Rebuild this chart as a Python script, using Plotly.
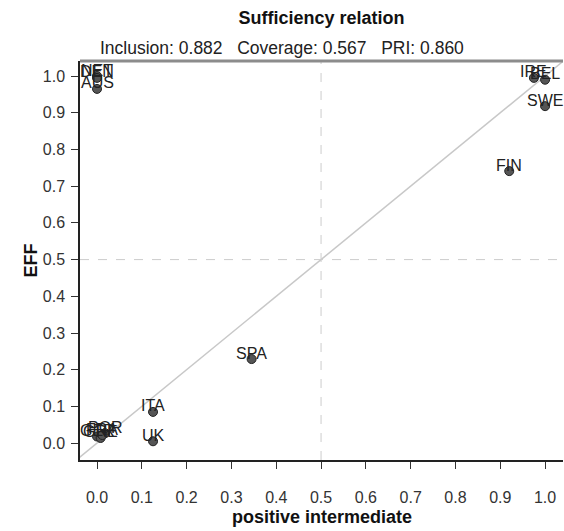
import plotly.graph_objects as go

# Case labels and their set-membership scores
cases = ["NET", "DEN", "AUS", "IRE", "BEL", "SWE", "FIN", "SPA",
         "ITA", "UK", "POR", "GER", "GRE", "FRA"]
pos_intermediate = [0.0, 0.0, 0.0, 0.975, 1.0, 1.0, 0.92, 0.345,
                    0.125, 0.125, 0.018, 0.0, 0.008, 0.012]
eff = [1.0, 0.995, 0.965, 0.995, 0.99, 0.918, 0.741, 0.229,
       0.085, 0.005, 0.027, 0.018, 0.014, 0.022]

subtitle = "Inclusion: 0.882   Coverage: 0.567   PRI: 0.860"
x_title = "positive intermediate"
y_title = "EFF"
tick_vals = [i / 10 for i in range(11)]
tick_text = [f"{v:.1f}" for v in tick_vals]

x_range = [-0.038, 1.04]
y_range = [-0.046, 1.041]

font_family = "Liberation Sans, Arial, Helvetica, sans-serif"

fig = go.Figure()

# Diagonal reference line y = x across the plotting region
diag = [min(x_range[0], y_range[0]), max(x_range[1], y_range[1])]
fig.add_trace(go.Scatter(
    x=diag, y=diag, mode="lines",
    line=dict(color="#c8c8c8", width=1.5),
    hoverinfo="skip", showlegend=False,
))

# Case points
fig.add_trace(go.Scatter(
    x=pos_intermediate, y=eff, mode="markers",
    marker=dict(size=9, color="#555555",
                line=dict(color="#222222", width=1)),
    text=cases, hoverinfo="text", showlegend=False,
))

# Case labels, placed just above each point
for name, xv, yv in zip(cases, pos_intermediate, eff):
    fig.add_annotation(
        x=xv, y=yv, text=name, showarrow=False, yshift=6,
        font=dict(family=font_family, size=16, color="#222222"),
    )

# Dashed guides at 0.5
fig.add_vline(x=0.5, line=dict(color="#cccccc", width=1, dash="dash"))
fig.add_hline(y=0.5, line=dict(color="#cccccc", width=1, dash="dash"))

# Top frame edge
fig.add_shape(type="line", xref="paper", yref="paper",
              x0=0, x1=1, y0=1, y1=1,
              line=dict(color="#8c8c8c", width=3))

fig.add_annotation(
    xref="paper", yref="paper", x=18 / 483, y=1, yshift=1,
    xanchor="left", yanchor="bottom", showarrow=False,
    text=subtitle, font=dict(family=font_family, size=17.5, color="#222222"),
)

# Axis titles
fig.add_annotation(
    xref="paper", yref="paper", x=0.5, y=-57 / 399,
    xanchor="center", yanchor="middle", showarrow=False,
    text=f"<b>{x_title}</b>",
    font=dict(family=font_family, size=18, color="#111111"),
)
fig.add_annotation(
    xref="paper", yref="paper", x=-50 / 483, y=0.5, textangle=-90,
    xanchor="center", yanchor="middle", showarrow=False,
    text=f"<b>{y_title}</b>",
    font=dict(family=font_family, size=18, color="#111111"),
)

axis_common = dict(
    tickmode="array", tickvals=tick_vals, ticktext=tick_text,
    ticks="outside", ticklen=7, tickwidth=1, tickcolor="#333333",
    showline=True, linecolor="#222222", linewidth=1.5,
    showgrid=False, zeroline=False, automargin=False,
    tickfont=dict(family=font_family, size=16, color="#333333"),
)

fig.update_xaxes(range=x_range, **axis_common, ticklabelstandoff=15)
fig.update_yaxes(range=y_range, **axis_common, ticklabelstandoff=3)

fig.update_layout(
    width=564, height=531,
    margin=dict(l=80, r=1, t=61, b=71),
    paper_bgcolor="white", plot_bgcolor="white",
    title=dict(text="<b>Sufficiency relation</b>", x=0.57, xanchor="center",
               y=0.967, yanchor="middle",
               font=dict(family=font_family, size=18, color="#111111")),
)

fig.write_html("out.html")
